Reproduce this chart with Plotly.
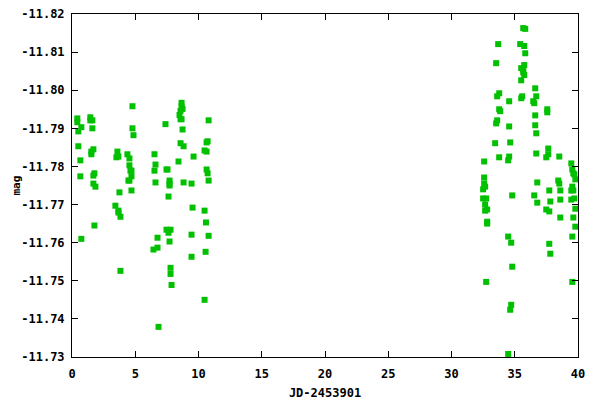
import plotly.graph_objects as go

# Left cluster (JD-2453901, mag)
x_left = [4.78, 0.42, 0.42, 1.45, 1.61, 1.45, 0.74, 0.50, 1.61, 4.78, 4.86,
          8.66, 8.66, 8.74, 8.58, 8.50, 8.58, 8.66, 7.39, 10.80, 8.74,
          0.50, 1.69, 1.53, 1.53, 0.66, 3.59, 3.67, 3.51, 4.38, 4.54, 6.52,
          8.58, 8.82, 10.72, 10.64, 10.48, 10.64, 9.61, 8.42, 4.54, 4.62, 4.70,
          6.60, 6.52, 7.47, 7.55, 10.64, 10.72, 1.77, 1.69, 0.66, 4.70, 4.54,
          4.46, 6.60, 7.71, 7.71, 7.71, 8.82, 9.45, 10.80, 1.69, 1.85, 3.75,
          4.70, 7.63, 3.43, 3.67, 3.67, 3.83, 9.53, 10.48, 1.77, 0.74, 10.59,
          7.47, 7.79, 7.63, 6.76, 9.45, 10.80, 7.71, 6.76, 6.44, 10.56, 9.45,
          3.83, 7.79, 7.79, 7.87, 10.48, 6.84]
y_left = [-11.7958, -11.7926, -11.7916, -11.7929, -11.7921, -11.7921, -11.7903,
          -11.7892, -11.7900, -11.7900, -11.7882,
          -11.7967, -11.7958, -11.7951, -11.7946, -11.7935, -11.7924, -11.7924,
          -11.7911, -11.7921, -11.7897,
          -11.7853, -11.7845, -11.7839, -11.7832, -11.7816, -11.7839, -11.7826,
          -11.7824, -11.7832, -11.7821, -11.7832,
          -11.7861, -11.7853, -11.7866, -11.7863, -11.7842, -11.7839, -11.7826,
          -11.7813, -11.7803, -11.7789, -11.7789,
          -11.7805, -11.7789, -11.7792, -11.7792, -11.7792, -11.7782, -11.7782,
          -11.7776, -11.7774, -11.7774, -11.7763,
          -11.7763, -11.7758, -11.7763, -11.7755, -11.7750, -11.7758, -11.7755,
          -11.7763, -11.7755, -11.7747, -11.7732,
          -11.7737, -11.7721, -11.7697, -11.7684, -11.7679, -11.7668, -11.7692,
          -11.7684, -11.7645, -11.7610, -11.7653,
          -11.7634, -11.7634, -11.7626, -11.7613, -11.7621, -11.7618, -11.7603,
          -11.7587, -11.7582, -11.7576, -11.7563,
          -11.7526, -11.7534, -11.7518, -11.7489, -11.7450, -11.7379]

# Right cluster
x_right = [35.67, 35.83, 33.69, 35.43, 35.75, 35.83, 33.53, 35.75, 35.51, 35.67,
           35.67, 35.75, 35.51, 36.62, 33.77, 33.61, 35.59, 35.51, 36.70, 34.56,
           36.46, 36.54, 37.57, 37.57, 33.77, 33.85, 36.62, 33.61, 33.53, 34.56,
           36.62, 36.70, 33.45, 34.64, 37.65, 37.65, 37.49, 36.70, 38.52, 33.77,
           34.56, 34.48, 32.58, 39.47, 39.55, 39.63, 39.71, 39.79, 32.58, 32.58,
           32.66, 32.50, 36.78, 38.44, 38.52, 39.55, 39.47, 39.63, 37.73, 38.60,
           34.80, 36.54, 32.50, 32.74, 39.71, 39.47, 38.60, 37.81, 36.78, 32.66,
           39.79, 32.82, 32.66, 37.49, 37.73, 38.60, 39.63, 32.82, 32.82, 39.79,
           34.48, 39.55, 34.72, 37.73, 37.81, 34.80, 32.74, 39.55, 34.72, 34.64,
           34.48]
y_right = [-11.8163, -11.8161, -11.8121, -11.8121, -11.8116, -11.8097, -11.8071,
           -11.8066, -11.8058, -11.8055, -11.8047, -11.8040, -11.8026, -11.8005,
           -11.7992, -11.7984, -11.7984, -11.7979, -11.7984, -11.7971, -11.7971,
           -11.7966, -11.7950, -11.7942, -11.7950, -11.7945, -11.7934, -11.7921,
           -11.7913, -11.7905, -11.7908, -11.7887, -11.7861, -11.7863, -11.7847,
           -11.7832, -11.7824, -11.7834, -11.7826, -11.7824, -11.7826, -11.7816,
           -11.7813, -11.7808, -11.7792, -11.7782, -11.7779, -11.7766, -11.7771,
           -11.7755, -11.7747, -11.7740, -11.7758, -11.7763, -11.7755, -11.7747,
           -11.7737, -11.7737, -11.7737, -11.7737, -11.7724, -11.7724, -11.7716,
           -11.7716, -11.7716, -11.7713, -11.7713, -11.7708, -11.7705, -11.7700,
           -11.7689, -11.7687, -11.7684, -11.7687, -11.7682, -11.7666, -11.7666,
           -11.7655, -11.7650, -11.7642, -11.7616, -11.7616, -11.7600, -11.7597,
           -11.7571, -11.7537, -11.7497, -11.7497, -11.7437, -11.7424, -11.7308]

x_ticks = [0, 5, 10, 15, 20, 25, 30, 35, 40]
y_ticks = [-11.82, -11.81, -11.80, -11.79, -11.78, -11.77, -11.76, -11.75, -11.74, -11.73]
y_ticktext = ["-11.82", "-11.81", "-11.80", "-11.79", "-11.78", "-11.77",
              "-11.76", "-11.75", "-11.74", "-11.73"]

font = dict(family="DejaVu Sans Mono", size=12, color="black", weight="bold")
title_font = dict(family="DejaVu Sans Mono", size=11, color="black", weight="bold")

fig = go.Figure()
fig.add_trace(go.Scatter(
    x=x_left + x_right, y=y_left + y_right, mode="markers",
    marker=dict(symbol="square", size=6, color="#00c000", line=dict(width=0)),
    cliponaxis=True, showlegend=False,
))

axis_common = dict(showline=True, linecolor="black", linewidth=1, mirror="ticks",
                   ticks="inside", ticklen=6, tickcolor="black", showgrid=False,
                   zeroline=False, tickfont=font, automargin=False,
                   ticklabeloverflow="allow")

# The page body has an 8px default margin, so the figure is sized to fit
# inside the 600x400 window with that offset.
fig.update_layout(
    width=592, height=392,
    margin=dict(l=64, r=22, t=6, b=43),
    paper_bgcolor="white", plot_bgcolor="white",
    xaxis=dict(range=[0, 40], tickmode="array", tickvals=x_ticks,
               ticktext=[str(v) for v in x_ticks], ticklabelstandoff=6,
               title=dict(text="JD-2453901", font=font, standoff=8), **axis_common),
    yaxis=dict(range=[-11.73, -11.82], tickmode="array", tickvals=y_ticks,
               ticktext=y_ticktext, ticklabelstandoff=4, **axis_common),
    font=font,
    annotations=[dict(text="mag", xref="paper", yref="paper", x=0, y=0.5,
                      xanchor="center", yanchor="middle", xshift=-56,
                      textangle=-90, showarrow=False, font=title_font)],
)

fig.write_html("out.html")
